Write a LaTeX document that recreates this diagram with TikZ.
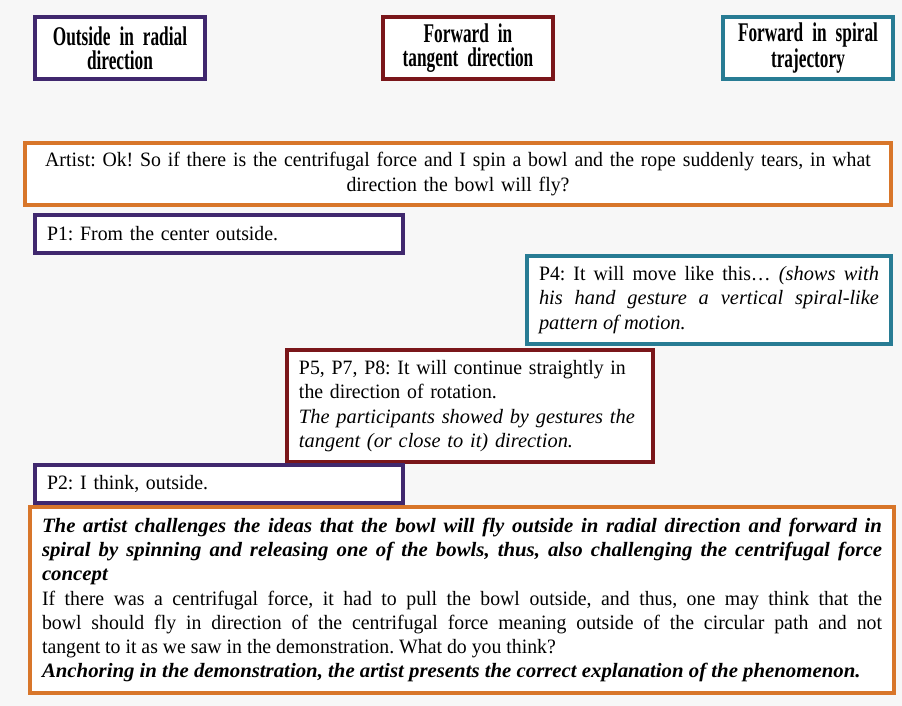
\documentclass[tikz,border=0pt]{standalone}
\usepackage{fontspec}
\setmainfont{Liberation Serif}[FakeStretch=0.97,
        ItalicFeatures={FakeStretch=1.0},
        BoldItalicFeatures={FakeStretch=1.02}]
\newfontfamily\hdrfont{Liberation Serif}[FakeStretch=0.64]
\frenchspacing

\definecolor{radial}{RGB}{64,40,110}
\definecolor{tangent}{RGB}{122,22,26}
\definecolor{spiral}{RGB}{40,124,148}
\definecolor{artist}{RGB}{216,118,42}
\definecolor{paper}{RGB}{247,247,247}

\tikzset{
  card/.style={draw=#1, line width=1.6pt, fill=white, inner xsep=6pt, inner ysep=0pt,
               font=\fontsize{10.2}{12.15}\selectfont, align=left},
  head/.style={card=#1, align=center, text width=73pt, minimum height=31pt,
               font=\hdrfont\bfseries\fontsize{13.5}{12}\selectfont},
}

\begin{document}
\begin{tikzpicture}[x=0.5pt,y=-0.5pt]
        % draw the page
        \useasboundingbox[fill=paper] (0,0) rectangle (902,706);

%%%%%%%%%%%%%%%%%%%%%%%%
        % the three categories on top
        \foreach \name/\x/\col/\txt in {rad/120/radial/{Outside in radial\\direction},
                                        tan/468/tangent/{Forward in\\tangent direction},
                                        spi/808/spiral/{Forward in spiral\\trajectory}} {
                \node[head=\col] (hdr\name) at (\x,48) {\txt};
        }

%%%%%%%%%%%%%%%%%%%%%%%%%%%
        % the dialogue
        \node[card=artist, align=center, text width=421pt, minimum height=31pt] (artist) at (458,174)
                {Artist: Ok! So if there is the centrifugal force and I spin a bowl and the rope suddenly tears, in what\\
                 direction the bowl will fly?};

        \node[card=radial, text width=172pt, minimum height=19pt] (pone) at (219,234)
                {P1: From the center outside.};

        \node[card=spiral, align=justify, text width=170pt, minimum height=44pt] (pfour) at (709,300)
                {P4: It will move like this\ldots{} \textit{(shows with\linebreak
                 his hand gesture a vertical spiral-like\linebreak pattern of motion.}};

        \node[card=tangent, text width=171pt, minimum height=56pt] (pfive) at (470,406)
                {P5, P7, P8: It will continue straightly in\\
                 the direction of rotation.\\
                 \textit{The participants showed by gestures the\\
                 tangent (or close to it) direction.}};

        \node[card=radial, text width=172pt, minimum height=19pt] (ptwo) at (219,484)
                {P2: I think, outside.};

%%%%%%%%%%%%%%%%%%%%
        % the artist answers
        \node[card=artist, align=justify, text width=420pt, minimum height=93pt] (answer) at (462,600)
                {\textbf{\textit{The artist challenges the ideas that the bowl will fly outside in radial direction and forward in\linebreak
                 spiral by spinning and releasing one of the bowls, thus, also challenging the centrifugal force\linebreak
                 concept}}\\
                 If there was a centrifugal force, it had to pull the bowl outside, and thus, one may think that the\linebreak
                 bowl should fly in direction of the centrifugal force meaning outside of the circular path and not\linebreak
                 tangent to it as we saw in the demonstration. What do you think?\\
                 \textbf{\textit{Anchoring in the demonstration, the artist presents the correct explanation of the phenomenon.}}};

\end{tikzpicture}
\end{document}
